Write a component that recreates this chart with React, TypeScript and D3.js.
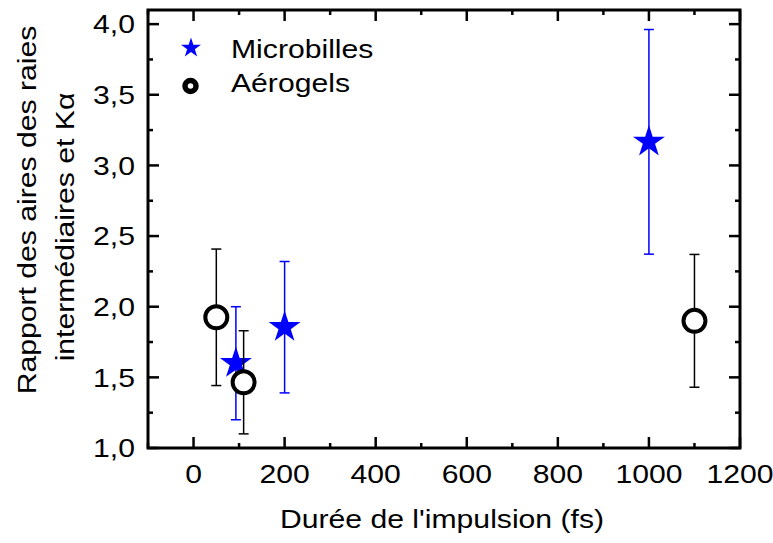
import React from "react";
import * as d3 from "d3";

const microX = [93, 200, 1000];
const microY = [1.6, 1.855, 3.167];
const microErr = [0.4, 0.465, 0.795];

const aeroX = [50, 110, 1100];
const aeroY = [1.925, 1.465, 1.9];
const aeroErr = [0.483, 0.365, 0.47];

const xMajorTicks = [0, 200, 400, 600, 800, 1000, 1200];
const xMinorTicks = [-100, 100, 300, 500, 700, 900, 1100];
const yMajorTicks = [1.0, 1.5, 2.0, 2.5, 3.0, 3.5, 4.0];
const yMinorTicks = [1.25, 1.75, 2.25, 2.75, 3.25, 3.75];

const legendLabels = ["Microbilles", "Aérogels"];
const xTitle = "Durée de l'impulsion (fs)";
const yTitleLines = ["Rapport des aires des raies", "intermédiaires et Kα"];

const W = 773;
const H = 543;
const L = 148, R = 740, T = 10, B = 448;
const FONT = "'Liberation Sans', Arial, Helvetica, sans-serif";
const FS = 26;
const SX = 1.16;
const BLUE = "#0000ff";

const x = d3.scaleLinear().domain([-100, 1200]).range([L, R]);
const y = d3.scaleLinear().domain([1.0, 4.1]).range([B, T]);

function SText({ tx, ty, anchor = "start", rotate = 0, children }: any) {
  return (
    <g transform={`translate(${tx},${ty}) rotate(${rotate}) scale(${SX},1)`}>
      <text x={0} y={0} textAnchor={anchor} fontFamily={FONT} fontSize={FS} fill="#000">
        {children}
      </text>
    </g>
  );
}

const starBig = d3.symbol().type(d3.symbolStar).size(317)()!;
const starSmall = d3.symbol().type(d3.symbolStar).size(124)()!;

export default function App() {
  const fmt = (v: number) => v.toFixed(1).replace(".", ",");
  const MAJ = 11, MIN = 5;
  const cap = 5;
  return (
    <svg width={W} height={H} style={{ position: "absolute", left: 0, top: 0 }}>
      <rect x={0} y={0} width={W} height={H} fill="#fff" />
      {/* ticks */}
      <g stroke="#000" strokeWidth={2.5}>
        {xMajorTicks.map((t) => (
          <g key={"xm" + t}>
            <line x1={x(t)} x2={x(t)} y1={B} y2={B - MAJ} />
            <line x1={x(t)} x2={x(t)} y1={T} y2={T + MAJ} />
          </g>
        ))}
        {xMinorTicks.map((t) => (
          <g key={"xn" + t}>
            <line x1={x(t)} x2={x(t)} y1={B} y2={B - MIN} />
            <line x1={x(t)} x2={x(t)} y1={T} y2={T + MIN} />
          </g>
        ))}
        {yMajorTicks.map((t) => (
          <g key={"ym" + t}>
            <line x1={L} x2={L + MAJ} y1={y(t)} y2={y(t)} />
            <line x1={R} x2={R - MAJ} y1={y(t)} y2={y(t)} />
          </g>
        ))}
        {yMinorTicks.map((t) => (
          <g key={"yn" + t}>
            <line x1={L} x2={L + MIN} y1={y(t)} y2={y(t)} />
            <line x1={R} x2={R - MIN} y1={y(t)} y2={y(t)} />
          </g>
        ))}
      </g>
      <rect x={L} y={T} width={R - L} height={B - T} fill="none" stroke="#000" strokeWidth={3} />
      {/* tick labels */}
      {xMajorTicks.map((t) => (
        <SText key={"xl" + t} tx={x(t)} ty={483} anchor="middle">
          {String(t)}
        </SText>
      ))}
      {yMajorTicks.map((t) => (
        <SText key={"yl" + t} tx={135} ty={y(t) + 9.3} anchor="end">
          {fmt(t)}
        </SText>
      ))}
      {/* titles */}
      <SText tx={442} ty={528} anchor="middle">{xTitle}</SText>
      <SText tx={35.5} ty={210} anchor="middle" rotate={-90}>{yTitleLines[0]}</SText>
      <SText tx={74} ty={227} anchor="middle" rotate={-90}>{yTitleLines[1]}</SText>

      {/* Microbilles */}
      <g stroke={BLUE} strokeWidth={1.5}>
        {microX.map((v, i) => {
          const cx = x(v);
          const y1 = y(microY[i] + microErr[i]);
          const y2 = y(microY[i] - microErr[i]);
          return (
            <g key={"me" + i}>
              <line x1={cx} x2={cx} y1={y1} y2={y2} />
              <line x1={cx - cap} x2={cx + cap} y1={y1} y2={y1} />
              <line x1={cx - cap} x2={cx + cap} y1={y2} y2={y2} />
            </g>
          );
        })}
      </g>
      {microX.map((v, i) => (
        <path key={"ms" + i} d={starBig} transform={`translate(${x(v)},${y(microY[i])})`} fill={BLUE} />
      ))}

      {/* Aérogels */}
      <g stroke="#000" strokeWidth={1.5}>
        {aeroX.map((v, i) => {
          const cx = x(v);
          const y1 = y(aeroY[i] + aeroErr[i]);
          const y2 = y(aeroY[i] - aeroErr[i]);
          return (
            <g key={"ae" + i}>
              <line x1={cx} x2={cx} y1={y1} y2={y2} />
              <line x1={cx - cap} x2={cx + cap} y1={y1} y2={y1} />
              <line x1={cx - cap} x2={cx + cap} y1={y2} y2={y2} />
            </g>
          );
        })}
      </g>
      {aeroX.map((v, i) => (
        <circle key={"ac" + i} cx={x(v)} cy={y(aeroY[i])} r={11} fill="#fff" stroke="#000" strokeWidth={4} />
      ))}

      {/* legend */}
      <path d={starSmall} transform="translate(191,48)" fill={BLUE} />
      <circle cx={190.5} cy={86} r={5.5} fill="#fff" stroke="#000" strokeWidth={5.5} />
      <SText tx={231} ty={58}>{legendLabels[0]}</SText>
      <SText tx={231} ty={92}>{legendLabels[1]}</SText>
    </svg>
  );
}
